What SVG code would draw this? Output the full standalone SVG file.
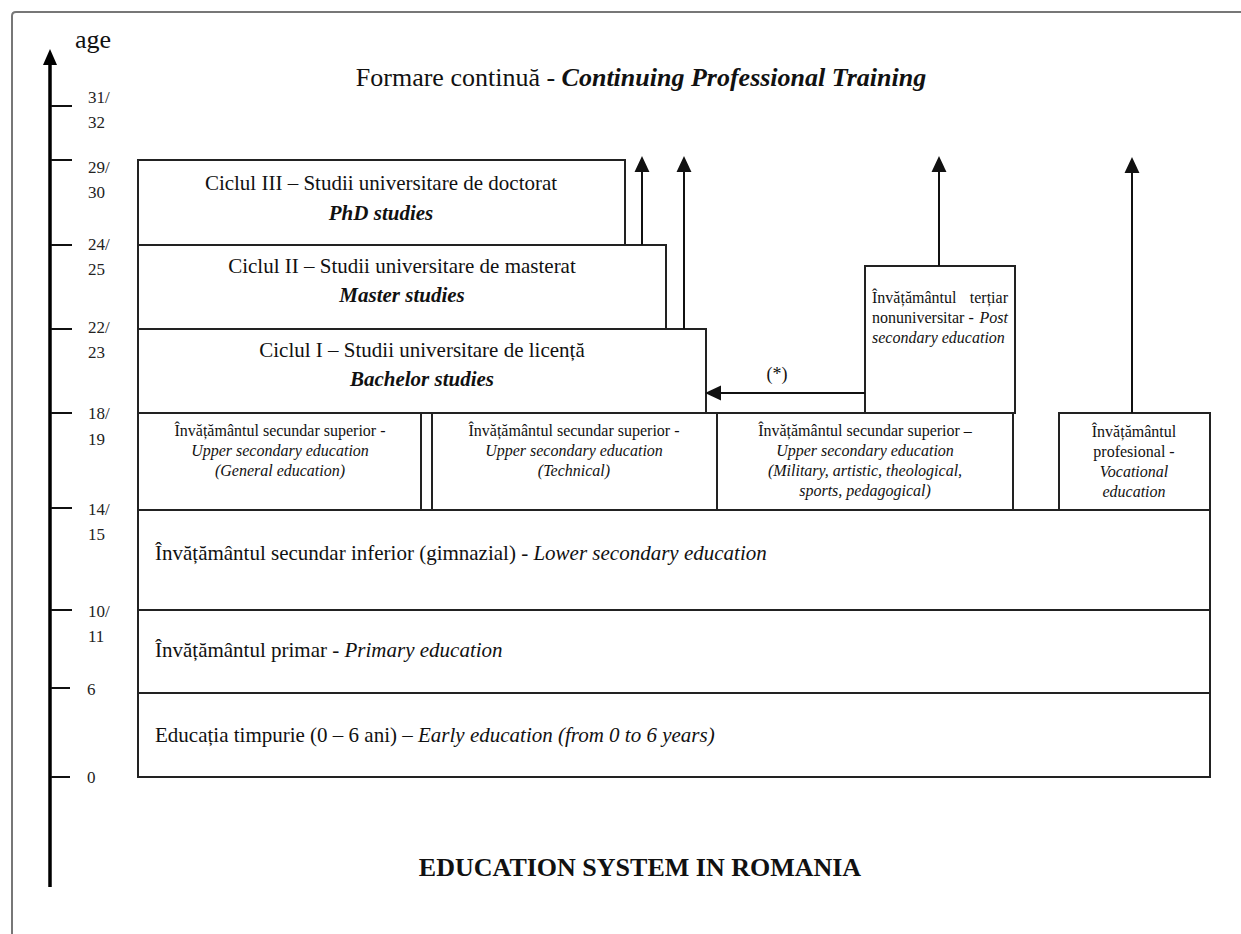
<svg xmlns="http://www.w3.org/2000/svg" width="1241" height="934" viewBox="0 0 1241 934">
<style>
.box{fill:#fff;stroke:#222;stroke-width:2}
.t{font-family:"Liberation Serif","Times New Roman",serif;fill:#111}
.bi{font-weight:bold;font-style:italic}
.i{font-style:italic}
.tick{stroke:#111;stroke-width:2}
.num{font-family:"Liberation Serif","Times New Roman",serif;font-size:17px;fill:#222}
.small{font-size:16px}
.big{font-size:21px}
.conn{stroke:#111;stroke-width:2;fill:none}
</style>
<defs>
<marker id="ah" markerUnits="userSpaceOnUse" markerWidth="16" markerHeight="16" viewBox="0 0 15 14" refX="0" refY="7" orient="auto">
<path d="M0,0 L15,7 L0,14 Z" fill="#111"/>
</marker>
</defs>
<rect width="1241" height="934" fill="#fff"/>
<path d="M12,934 V16 Q12,12 16,12 H1241" fill="none" stroke="#777" stroke-width="2"/>

<g id="axis">
<line x1="50" y1="887" x2="50" y2="63" stroke="#000" stroke-width="3.5"/>
<polygon points="50,49 43,65 57,65" fill="#000"/>
<text class="t" x="75" y="48" font-size="26">age</text>
<line class="tick" x1="51" y1="106" x2="72" y2="106"/>
<line class="tick" x1="51" y1="160" x2="72" y2="160"/>
<line class="tick" x1="51" y1="245" x2="72" y2="245"/>
<line class="tick" x1="51" y1="329" x2="72" y2="329"/>
<line class="tick" x1="51" y1="413" x2="72" y2="413"/>
<line class="tick" x1="51" y1="508" x2="72" y2="508"/>
<line class="tick" x1="51" y1="610" x2="72" y2="610"/>
<line class="tick" x1="51" y1="688" x2="70" y2="688"/>
<line class="tick" x1="51" y1="777" x2="70" y2="777"/>
<text class="num" x="88" y="103">31/</text><text class="num" x="88" y="128">32</text>
<text class="num" x="88" y="173">29/</text><text class="num" x="88" y="198">30</text>
<text class="num" x="88" y="250">24/</text><text class="num" x="88" y="275">25</text>
<text class="num" x="88" y="333">22/</text><text class="num" x="88" y="358">23</text>
<text class="num" x="88" y="419">18/</text><text class="num" x="88" y="445">19</text>
<text class="num" x="88" y="515">14/</text><text class="num" x="88" y="540">15</text>
<text class="num" x="88" y="617">10/</text><text class="num" x="88" y="642">11</text>
<text class="num" x="87" y="695">6</text>
<text class="num" x="87" y="783">0</text>
</g>

<g id="continuing">
<text class="t" x="641" y="86" font-size="26" text-anchor="middle">Formare continuă - <tspan class="bi">Continuing Professional Training</tspan></text>
</g>

<g id="phd">
<rect class="box" x="138" y="160" width="487" height="85"/>
<text class="t big" x="381" y="190" text-anchor="middle">Ciclul III – Studii universitare de doctorat</text>
<text class="t big bi" x="381" y="220" text-anchor="middle">PhD studies</text>
</g>

<g id="master">
<rect class="box" x="138" y="245" width="528" height="84"/>
<text class="t big" x="402" y="273" text-anchor="middle">Ciclul II – Studii universitare de masterat</text>
<text class="t big bi" x="402" y="302" text-anchor="middle">Master studies</text>
</g>

<g id="bachelor">
<rect class="box" x="138" y="329" width="568" height="84"/>
<text class="t big" x="422" y="357" text-anchor="middle">Ciclul I – Studii universitare de licență</text>
<text class="t big bi" x="422" y="386" text-anchor="middle">Bachelor studies</text>
</g>

<g id="tertiary">
<rect class="box" x="865" y="266" width="150" height="147"/>
<text class="t small" x="872" y="303">Învățământul</text>
<text class="t small" x="1008" y="303" text-anchor="end">terțiar</text>
<text class="t small" x="872" y="323">nonuniversitar -</text>
<text class="t small i" x="1008" y="323" text-anchor="end">Post</text>
<text class="t small i" x="872" y="343">secondary education</text>
</g>

<g id="upper-general">
<rect class="box" x="138" y="413" width="283" height="97"/>
<text class="t small" x="280" y="436" text-anchor="middle">Învățământul secundar superior -</text>
<text class="t small i" x="280" y="456" text-anchor="middle">Upper secondary education</text>
<text class="t small i" x="280" y="476" text-anchor="middle">(General education)</text>
</g>

<g id="upper-technical">
<rect class="box" x="432" y="413" width="285" height="97"/>
<text class="t small" x="574" y="436" text-anchor="middle">Învățământul secundar superior -</text>
<text class="t small i" x="574" y="456" text-anchor="middle">Upper secondary education</text>
<text class="t small i" x="574" y="476" text-anchor="middle">(Technical)</text>
</g>

<g id="upper-special">
<rect class="box" x="717" y="413" width="296" height="97"/>
<text class="t small" x="865" y="436" text-anchor="middle">Învățământul secundar superior –</text>
<text class="t small i" x="865" y="456" text-anchor="middle">Upper secondary education</text>
<text class="t small i" x="865" y="476" text-anchor="middle">(Military, artistic, theological,</text>
<text class="t small i" x="865" y="496" text-anchor="middle">sports, pedagogical)</text>
</g>

<g id="vocational">
<rect class="box" x="1059" y="413" width="151" height="97"/>
<text class="t small" x="1134" y="437" text-anchor="middle">Învățământul</text>
<text class="t small" x="1134" y="457" text-anchor="middle">profesional -</text>
<text class="t small i" x="1134" y="477" text-anchor="middle">Vocational</text>
<text class="t small i" x="1134" y="497" text-anchor="middle">education</text>
</g>

<g id="lower-secondary">
<rect class="box" x="138" y="510" width="1072" height="100"/>
<text class="t big" x="155" y="560">Învățământul secundar inferior (gimnazial) - <tspan class="i">Lower secondary education</tspan></text>
</g>

<g id="primary">
<rect class="box" x="138" y="610" width="1072" height="83"/>
<text class="t big" x="155" y="657">Învățământul primar - <tspan class="i">Primary education</tspan></text>
</g>

<g id="early">
<rect class="box" x="138" y="693" width="1072" height="84"/>
<text class="t big" x="155" y="742">Educația timpurie (0 – 6 ani) – <tspan class="i">Early education (from 0 to 6 years)</tspan></text>
</g>

<g id="connectors">
<line class="conn" x1="642" y1="245" x2="642" y2="172" marker-end="url(#ah)"/>
<line class="conn" x1="684" y1="329" x2="684" y2="172" marker-end="url(#ah)"/>
<line class="conn" x1="939" y1="266" x2="939" y2="172" marker-end="url(#ah)"/>
<line class="conn" x1="1132" y1="413" x2="1132" y2="173" marker-end="url(#ah)"/>
<line class="conn" x1="865" y1="393" x2="721" y2="393" marker-end="url(#ah)"/>
<text class="t" x="777" y="380" font-size="18" text-anchor="middle">(*)</text>
</g>

<g id="title">
<text class="t" x="640" y="876" font-size="26" font-weight="bold" text-anchor="middle">EDUCATION SYSTEM IN ROMANIA</text>
</g>
</svg>
